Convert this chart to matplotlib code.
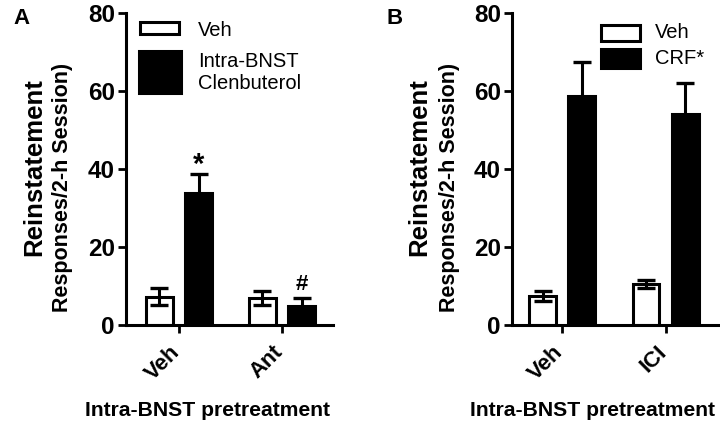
import matplotlib
matplotlib.use("Agg")
import matplotlib.pyplot as plt
from matplotlib.patches import Rectangle
import matplotlib.transforms as mtransforms
import numpy as np

plt.rcParams['font.family'] = ['Liberation Sans', 'DejaVu Sans']

# ---- data ----
cats_a = ["Veh", "Ant"]
veh_a = [7.3, 7.0]
veh_a_err = [2.1, 1.8]
clen_a = [33.8, 5.0]
clen_a_err = [4.9, 1.8]

cats_b = ["Veh", "ICI"]
veh_b = [7.4, 10.6]
veh_b_err = [1.3, 1.0]
crf_b = [58.6, 54.1]
crf_b_err = [8.9, 7.9]

yticks = [0, 20, 40, 60, 80]

W, H = 720, 428
fig = plt.figure(figsize=(W / 100, H / 100), dpi=100)

def fx(px):
    return px / W

def fy(py):
    return 1 - py / H

def panel(ax, cats, v1, e1, v2, e2, xlim):
    x = np.arange(len(cats))
    off = 0.19
    bw = 0.26
    ax.bar(x - off, v1, width=bw, color='white', edgecolor='black', linewidth=2.2, zorder=2)
    ax.bar(x + off, v2, width=bw, color='black', edgecolor='black', linewidth=2.2, zorder=2)
    ax.errorbar(x - off, v1, yerr=e1, fmt='none', ecolor='black', elinewidth=2.2,
                capsize=6.5, capthick=2.4, zorder=3)
    ax.errorbar(x + off, v2, yerr=e2, fmt='none', ecolor='black', elinewidth=2.2,
                capsize=6.5, capthick=2.4, zorder=3)
    ax.set_xlim(*xlim)
    ax.set_ylim(0, 80)
    ax.set_yticks(yticks)
    ax.set_xticks(x)
    ax.tick_params(axis='both', width=2, length=6, direction='out', pad=2)
    ax.tick_params(axis='x', pad=6)
    ax.set_xticklabels(cats, rotation=45, ha='right', va='top',
                       fontsize=16, fontweight='bold')
    shift = mtransforms.ScaledTranslation(5 / 100, 0, fig.dpi_scale_trans)
    for t in ax.xaxis.get_major_ticks():
        t.label1.set_transform(t.label1.get_transform() + shift)
    for lab in ax.get_yticklabels():
        lab.set_fontsize(17.5)
        lab.set_fontweight('bold')
    for s in ['top', 'right']:
        ax.spines[s].set_visible(False)
    for s in ['left', 'bottom']:
        ax.spines[s].set_linewidth(2.2)
    return x, off

# Panel A
axA = fig.add_axes([fx(126), fy(325), fx(333) - fx(126), fy(13) - fy(325)])
xA, offA = panel(axA, cats_a, veh_a, veh_a_err, clen_a, clen_a_err, (-0.515, 1.495))
axA.text(xA[0] + offA, clen_a[0] + clen_a_err[0] + 0.3, "*", ha='center', va='baseline',
         fontsize=21, fontweight='bold')
axA.text(xA[1] + offA, clen_a[1] + clen_a_err[1] + 2.2, "#", ha='center', va='baseline',
         fontsize=16, fontweight='bold')

# Panel B
axB = fig.add_axes([fx(512), fy(325), fx(718) - fx(512), fy(13) - fy(325)])
panel(axB, cats_b, veh_b, veh_b_err, crf_b, crf_b_err, (-0.486, 1.506))

# y labels
for x1, x2 in [(34, 63), (419, 449)]:
    fig.text(fx(x1), fy(167), "Reinstatement", rotation=90, ha='center', va='center',
             fontsize=18.5, fontweight='bold')
    fig.text(fx(x2), fy(187), "Responses/2-h Session)", rotation=90, ha='center', va='center',
             fontsize=15.5, fontweight='bold')

# x labels
fig.text(fx(208), fy(410), "Intra-BNST pretreatment", ha='center', va='center',
         fontsize=15.2, fontweight='bold')
fig.text(fx(593), fy(410), "Intra-BNST pretreatment", ha='center', va='center',
         fontsize=15.2, fontweight='bold')

# panel letters
fig.text(fx(21), fy(19), "A", ha='center', va='center', fontsize=16, fontweight='bold')
fig.text(fx(395), fy(19), "B", ha='center', va='center', fontsize=16, fontweight='bold')

# legends (manual)
def box(x0, y0, x1, y1, fc):
    fig.patches.append(Rectangle((fx(x0), fy(y1)), fx(x1) - fx(x0), fy(y0) - fy(y1),
                                 transform=fig.transFigure, facecolor=fc,
                                 edgecolor='black', linewidth=2.2))

box(139.5, 21.5, 179, 34, 'white')
box(139, 51, 180.5, 92.5, 'black')
fig.text(fx(198), fy(30), "Veh", ha='left', va='center', fontsize=14.5)
fig.text(fx(198), fy(72.5), "Intra-BNST\nClenbuterol", ha='left', va='center', fontsize=14.5,
         linespacing=1.25)

box(601, 25, 640, 41, 'white')
box(600.5, 48.5, 640.5, 67.5, 'black')
fig.text(fx(655), fy(33), "Veh", ha='left', va='center', fontsize=14.5)
fig.text(fx(655), fy(58), "CRF*", ha='left', va='center', fontsize=14.5)

fig.savefig("out.png", dpi=100)
